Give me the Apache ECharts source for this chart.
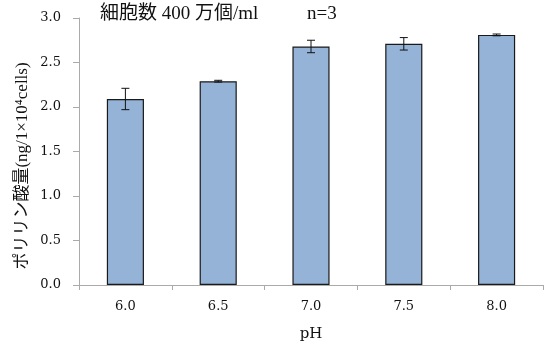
<!DOCTYPE html>
<html><head><meta charset="utf-8">
<script src="https://cdn.jsdelivr.net/npm/echarts@6/dist/echarts.min.js"></script>
<style>html,body{margin:0;padding:0;background:#fff}#c{width:544px;height:347px}</style>
</head><body><div id="c"></div>
<script>
const categories = ['6.0', '6.5', '7.0', '7.5', '8.0'];
const values = [2.09, 2.29, 2.68, 2.71, 2.81];
const errors = [0.12, 0.01, 0.07, 0.07, 0.01];
const yTicks = [0, 0.5, 1.0, 1.5, 2.0, 2.5, 3.0];
const titleMain = '細胞数 400 万個/ml';
const titleN = 'n=3';
const yName = 'ポリリン酸量(ng/1×10⁴cells)';
const xName = 'pH';

const chart = echarts.init(document.getElementById('c'));
const serif = '"DejaVu Serif","Noto Sans CJK JP",serif';
const tserif = '"Liberation Serif","Noto Sans CJK JP",serif';
chart.setOption({
  animation: false,
  graphic: [
    {type: 'text', left: 100, top: 5, style: {text: titleMain, font: '19px ' + tserif, fill: '#111'}},
    {type: 'text', left: 307, top: 5, style: {text: titleN, font: '19px ' + tserif, fill: '#111'}},
    {type: 'text', x: 23, y: 166, rotation: Math.PI / 2,
      style: {text: yName, font: '17px ' + tserif, fill: '#111', align: 'center', verticalAlign: 'middle'}}
  ],
  grid: {left: 79, top: 18, right: 1, bottom: 59},
  xAxis: {
    type: 'category', data: categories,
    name: xName, nameLocation: 'middle', nameGap: 42,
    nameTextStyle: {fontFamily: serif, fontSize: 15, color: '#111'},
    axisLine: {lineStyle: {color: '#aaa', width: 1}},
    axisTick: {show: true, alignWithLabel: false, length: 5, lineStyle: {color: '#aaa'}},
    axisLabel: {fontFamily: serif, fontSize: 13, color: '#111', margin: 15}
  },
  yAxis: {
    type: 'value', min: yTicks[0], max: yTicks[yTicks.length - 1], interval: 0.5,
    axisLine: {show: true, lineStyle: {color: '#aaa', width: 1}},
    axisTick: {show: true, length: 6, lineStyle: {color: '#aaa'}},
    splitLine: {show: false},
    axisLabel: {fontFamily: serif, fontSize: 13, color: '#111', margin: 18,
      formatter: v => v.toFixed(1)}
  },
  series: [{
    type: 'bar', data: values, barWidth: '40%',
    itemStyle: {color: '#95b3d7', borderColor: '#1a1a1a', borderWidth: 1.2}
  }, {
    type: 'custom',
    data: values.map((v, i) => [i, v, errors[i]]),
    z: 10,
    renderItem: function (params, api) {
      const i = api.value(0), v = api.value(1), e = api.value(2);
      const top = api.coord([i, v + e]);
      const bot = api.coord([i, v - e]);
      const hw = 4;
      const st = {stroke: '#111', lineWidth: 1};
      return {type: 'group', children: [
        {type: 'line', shape: {x1: top[0], y1: top[1], x2: bot[0], y2: bot[1]}, style: st},
        {type: 'line', shape: {x1: top[0] - hw, y1: top[1], x2: top[0] + hw, y2: top[1]}, style: st},
        {type: 'line', shape: {x1: bot[0] - hw, y1: bot[1], x2: bot[0] + hw, y2: bot[1]}, style: st}
      ]};
    }
  }]
});
</script></body></html>
